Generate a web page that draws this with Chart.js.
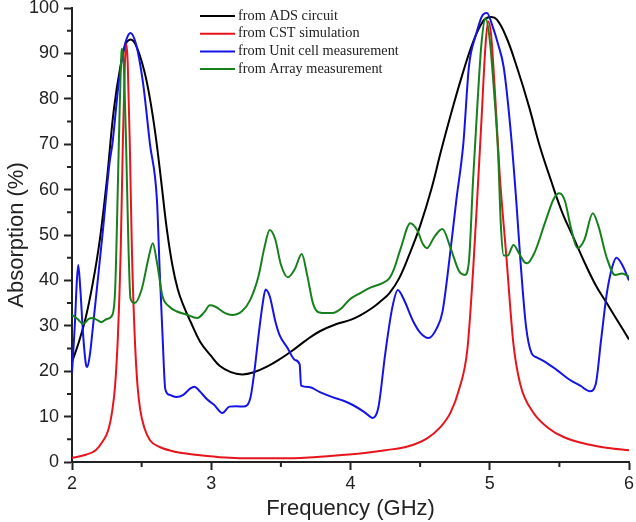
<!DOCTYPE html>
<html>
<head>
<meta charset="utf-8">
<script src="https://cdn.jsdelivr.net/npm/chart.js@4/dist/chart.umd.min.js"></script>
<style>
  html, body { margin: 0; padding: 0; background: #fff; }
  #wrap { width: 636px; height: 522px; position: relative; }
</style>
</head>
<body>
<div id="wrap"><canvas id="chart"></canvas></div>
<script>
// frequency (GHz) / absorption (%)
const adsFreq = [2.0, 2.05, 2.1, 2.15, 2.2, 2.25, 2.3, 2.35, 2.39, 2.43, 2.47, 2.52, 2.56, 2.6, 2.64, 2.68, 2.72, 2.76, 2.8, 2.85, 2.92, 3.0, 3.06, 3.14, 3.22, 3.3, 3.4, 3.5, 3.59, 3.68, 3.78, 3.9, 4.0, 4.07, 4.15, 4.22, 4.28, 4.35, 4.42, 4.5, 4.58, 4.65, 4.72, 4.8, 4.88, 4.95, 5.0, 5.05, 5.12, 5.2, 5.28, 5.36, 5.44, 5.52, 5.6, 5.68, 5.76, 5.84, 5.92, 6.0]
const adsAbs = [22, 26.5, 32, 39.5, 49, 62, 77.5, 87.5, 92.3, 93, 91, 86, 80, 72, 62, 51.5, 43.5, 38, 34.5, 31, 26.5, 23.3, 21.2, 19.8, 19.3, 19.7, 21, 22.8, 24.7, 26.8, 28.8, 30.4, 31.3, 32.3, 33.8, 35.5, 37.2, 40.5, 45.5, 52, 60, 68.5, 76.5, 85, 92.5, 97, 98, 97.5, 93.5, 86.5, 78.5, 69.5, 62, 55, 49.5, 44, 39, 35, 31, 27]

const cstFreq = [2.0, 2.1, 2.17, 2.22, 2.26, 2.29, 2.31, 2.33, 2.35, 2.365, 2.38, 2.39, 2.4, 2.415, 2.43, 2.45, 2.47, 2.49, 2.52, 2.56, 2.63, 2.75, 2.92, 3.1, 3.3, 3.5, 3.7, 3.92, 4.1, 4.25, 4.41, 4.55, 4.64, 4.72, 4.78, 4.84, 4.88, 4.91, 4.94, 4.97, 4.99, 5.01, 5.04, 5.07, 5.12, 5.17, 5.22, 5.31, 5.42, 5.53, 5.7, 5.85, 6.0]
const cstAbs = [0.9, 1.6, 2.6, 4.5, 7, 11.5, 17, 28, 47, 70, 88, 92, 88, 70, 47, 28, 17, 11.5, 7.5, 4.8, 3.3, 2.2, 1.5, 1.0, 0.8, 0.8, 1.0, 1.5, 2.0, 2.6, 3.4, 5.2, 7.5, 11, 16, 25, 42, 58, 75, 92, 97, 94, 80, 64, 45, 26, 17, 11, 7.5, 5.5, 3.9, 3.1, 2.6]

const unitFreq = [2.0, 2.02, 2.035, 2.045, 2.06, 2.08, 2.1, 2.11, 2.13, 2.15, 2.2, 2.22, 2.27, 2.29, 2.33, 2.36, 2.39, 2.42, 2.46, 2.51, 2.56, 2.61, 2.63, 2.65, 2.67, 2.7, 2.75, 2.8, 2.85, 2.88, 2.92, 2.97, 3.02, 3.08, 3.13, 3.18, 3.23, 3.28, 3.31, 3.34, 3.37, 3.39, 3.42, 3.46, 3.49, 3.55, 3.6, 3.635, 3.645, 3.7, 3.78, 3.87, 3.95, 4.02, 4.1, 4.16, 4.2, 4.25, 4.3, 4.34, 4.38, 4.45, 4.5, 4.56, 4.62, 4.66, 4.71, 4.76, 4.81, 4.85, 4.9, 4.95, 4.98, 5.02, 5.06, 5.1, 5.15, 5.19, 5.22, 5.26, 5.3, 5.34, 5.4, 5.48, 5.58, 5.65, 5.72, 5.76, 5.8, 5.84, 5.88, 5.91, 5.95, 6.0]
const unitAbs = [19.6, 30, 40, 43.4, 38, 28, 21.5, 20.9, 24, 29.7, 44.5, 50.4, 66, 70, 82, 89, 93, 94.5, 92, 83.5, 70, 57.7, 42, 28, 16, 14.8, 14.3, 14.8, 16.2, 16.6, 15.5, 13.8, 12.6, 10.8, 12.2, 12.3, 12.2, 14, 20, 28, 35, 38, 36.5, 31, 28, 25, 22.5, 21.5, 16.8, 16.5, 15.4, 14.3, 13.5, 12.5, 11, 9.7, 12, 24, 34, 37.9, 36, 31, 28.5, 27.3, 29.5, 33, 44.5, 57.7, 70, 87, 94, 98.5, 98.9, 96, 92, 87, 73, 57.7, 44.5, 30, 24, 23, 22, 20.3, 18, 16.8, 15.6, 17, 27, 37, 43, 45, 43.5, 40]

const arrayFreq = [2.0, 2.04, 2.08, 2.12, 2.15, 2.18, 2.21, 2.25, 2.29, 2.31, 2.325, 2.34, 2.355, 2.36, 2.375, 2.39, 2.405, 2.42, 2.45, 2.5, 2.55, 2.58, 2.61, 2.65, 2.7, 2.75, 2.82, 2.9, 2.95, 2.99, 3.03, 3.1, 3.15, 3.22, 3.28, 3.34, 3.38, 3.42, 3.46, 3.5, 3.55, 3.6, 3.65, 3.69, 3.73, 3.77, 3.83, 3.87, 3.94, 3.99, 4.07, 4.15, 4.23, 4.28, 4.31, 4.36, 4.43, 4.48, 4.52, 4.55, 4.6, 4.66, 4.72, 4.78, 4.82, 4.85, 4.88, 4.91, 4.94, 4.97, 5.0, 5.03, 5.06, 5.08, 5.1, 5.13, 5.17, 5.21, 5.25, 5.27, 5.32, 5.4, 5.46, 5.5, 5.54, 5.58, 5.63, 5.68, 5.74, 5.78, 5.84, 5.9, 5.95, 6.0]
const arrayAbs = [32.4, 31.5, 30.4, 31.5, 31.7, 31.3, 30.8, 31.5, 32.4, 38, 55, 75, 90, 91, 85, 68, 48, 36, 35, 38, 45, 48.2, 44, 36.5, 34.2, 33.2, 32.5, 31.7, 33, 34.5, 34.2, 32.8, 32.4, 33.2, 35.7, 41, 47, 51.1, 49, 43.5, 40.7, 42.5, 45.8, 41, 35, 33, 32.8, 32.8, 34, 35.7, 37.2, 38.5, 39.4, 40.5, 42.3, 47, 52.6, 51, 48, 47.1, 49.5, 51.3, 47, 42, 41.2, 44, 62, 78, 92, 97.8, 93, 82, 68, 52, 45.5, 45.5, 47.8, 46, 44, 43.8, 46, 53, 58, 59.2, 57.5, 52, 47.1, 49, 54.8, 52, 45, 41.2, 41.5, 40.8]

const seriesNames = ["from ADS circuit", "from CST simulation", "from Unit cell measurement", "from Array measurement"]
const seriesColors = ["#000000", "#e8141c", "#1414e6", "#17801d"]

const xTicks = [2, 3, 4, 5, 6]
const yTicks = [0, 10, 20, 30, 40, 50, 60, 70, 80, 90, 100]

const pts = (xs, ys) => xs.map((x, i) => ({x: x, y: ys[i]}))

const axisColor = "#222"
const sans = "'Liberation Sans', Arial, sans-serif"

// short minor ticks between the labelled ones
const minorTicks = {
    id: "minorTicks",
    afterDraw(chart) {
        const ctx = chart.ctx
        const xs = chart.scales.x, ys = chart.scales.y
        ctx.save()
        ctx.strokeStyle = axisColor
        ctx.lineWidth = 2
        ctx.beginPath()
        for (let v = 2.5; v < 6; v += 1) {
            const px = xs.getPixelForValue(v)
            ctx.moveTo(px, xs.top)
            ctx.lineTo(px, xs.top + 5)
        }
        for (let v = 5; v < 100; v += 10) {
            const py = ys.getPixelForValue(v)
            ctx.moveTo(ys.right, py)
            ctx.lineTo(ys.right - 5, py)
        }
        ctx.stroke()
        ctx.restore()
    }
}

// legend sits inside the plot, top middle
const insideLegend = {
    id: "insideLegend",
    afterDraw(chart) {
        const ctx = chart.ctx
        ctx.save()
        ctx.font = "14.3px 'Liberation Serif', 'Times New Roman', serif"
        ctx.textBaseline = "middle"
        chart.data.datasets.forEach((ds, i) => {
            const y = 16 + i * 17.7
            ctx.strokeStyle = ds.borderColor
            ctx.lineWidth = 2
            ctx.beginPath()
            ctx.moveTo(200, y)
            ctx.lineTo(235, y)
            ctx.stroke()
            ctx.fillStyle = "#222"
            ctx.fillText(ds.label, 238, y)
        })
        ctx.restore()
    }
}

const lineSet = (i, xs, ys, order, smooth) => ({
    label: seriesNames[i],
    data: pts(xs, ys),
    borderColor: seriesColors[i],
    borderWidth: 2,
    pointRadius: 0,
    fill: false,
    tension: smooth ? 0.4 : 0,
    cubicInterpolationMode: smooth ? "default" : "monotone",
    order: order
})

const chart = new Chart("chart", {
    type: "line",
    data: {
        datasets: [
            lineSet(0, adsFreq, adsAbs, 3, true),
            lineSet(1, cstFreq, cstAbs, 2, false),
            lineSet(2, unitFreq, unitAbs, 1, false),
            lineSet(3, arrayFreq, arrayAbs, 0, false)
        ]
    },
    options: {
        responsive: true,
        maintainAspectRatio: false,
        animation: false,
        layout: {padding: {top: 8, right: 7, left: 0, bottom: 0}},
        plugins: {legend: {display: false}, tooltip: {enabled: false}},
        scales: {
            x: {
                type: "linear",
                min: 2, max: 6,
                afterBuildTicks: (s) => { s.ticks = xTicks.map(v => ({value: v})) },
                afterFit: (s) => { s.height = 60; s.paddingLeft = 0; s.paddingRight = 0 },
                border: {color: axisColor, width: 2},
                grid: {drawOnChartArea: false, drawTicks: true, tickLength: 8, tickWidth: 2, tickColor: axisColor},
                ticks: {color: "#222", padding: 3, font: {family: sans, size: 18}},
                title: {display: true, text: "Frequency (GHz)", color: "#222", font: {family: sans, size: 22}, padding: {top: 2, bottom: 0}}
            },
            y: {
                min: 0, max: 100,
                afterBuildTicks: (s) => { s.ticks = yTicks.map(v => ({value: v})) },
                afterFit: (s) => { s.width = 72; s.paddingTop = 0; s.paddingBottom = 0 },
                border: {color: axisColor, width: 2},
                grid: {drawOnChartArea: false, drawTicks: true, tickLength: 8, tickWidth: 2, tickColor: axisColor},
                ticks: {color: "#222", padding: 5, font: {family: sans, size: 18}},
                title: {display: true, text: "Absorption (%)", color: "#222", font: {family: sans, size: 22}, padding: {top: 4, bottom: 0}}
            }
        }
    },
    plugins: [minorTicks, insideLegend]
})
</script>
</body>
</html>
